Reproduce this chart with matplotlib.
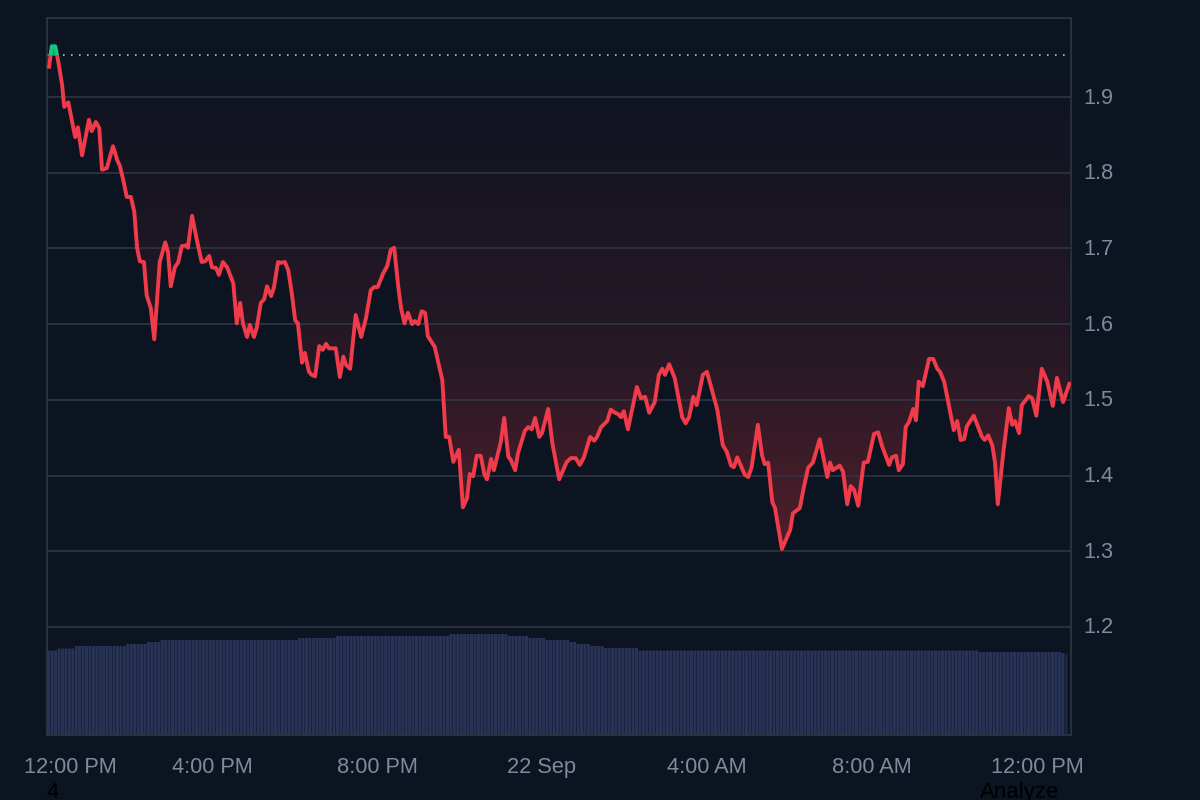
import numpy as np
import matplotlib
matplotlib.use("Agg")
import matplotlib.pyplot as plt
from matplotlib.patches import Rectangle
from matplotlib.path import Path
from matplotlib.transforms import ScaledTranslation

# --- data -------------------------------------------------------------
minutes = [3,7,12,16,22,25,31,41,45,51,61,65,71,76,80,87,96,102,106,111,116,122,127,131,135,141,145,151,156,
 164,172,176,180,186,191,196,202,205,211,218,225,230,236,240,246,250,256,262,271,276,281,285,291,295,301,305,
 311,316,320,326,330,336,340,346,351,356,361,365,371,375,381,385,390,396,401,406,410,420,426,431,435,441,449,
 457,464,471,476,481,489,495,500,505,511,515,520,525,531,535,540,545,550,554,564,575,580,585,591,599,605,611,
 615,620,625,631,636,640,646,650,660,665,671,675,681,685,695,700,705,710,716,720,729,735,745,756,762,769,775,
 781,790,796,800,806,815,820,826,831,835,839,845,858,864,870,876,884,890,895,899,905,913,924,929,934,940,945,
 954,960,975,983,989,995,999,1004,1015,1020,1025,1034,1040,1044,1049,1055,1059,1069,1081,1085,1095,1101,1107,
 1114,1124,1135,1139,1143,1153,1158,1164,1169,1174,1180,1188,1194,1203,1209,1215,1225,1229,1235,1239,1245,1249,
 1254,1260,1264,1268,1274,1283,1289,1295,1299,1305,1319,1324,1329,1334,1338,1348,1360,1364,1369,1375,1379,1383,
 1391,1399,1404,1408,1414,1418,1428,1433,1439,1447,1455,1463,1469,1478,1487]
prices = [1.940,1.967,1.967,1.949,1.916,1.887,1.893,1.847,1.860,1.823,1.870,1.855,1.867,1.859,1.804,1.806,1.835,
 1.817,1.809,1.790,1.768,1.768,1.748,1.701,1.683,1.682,1.638,1.621,1.580,1.682,1.708,1.695,1.650,1.675,1.682,
 1.703,1.704,1.701,1.743,1.711,1.682,1.683,1.690,1.675,1.674,1.665,1.682,1.675,1.654,1.601,1.628,1.601,1.583,
 1.599,1.583,1.595,1.628,1.633,1.650,1.637,1.648,1.682,1.681,1.682,1.671,1.641,1.605,1.601,1.549,1.562,1.537,
 1.533,1.531,1.571,1.566,1.574,1.568,1.568,1.530,1.557,1.546,1.541,1.612,1.583,1.608,1.645,1.649,1.649,1.667,
 1.677,1.698,1.701,1.649,1.621,1.601,1.615,1.600,1.604,1.600,1.617,1.615,1.584,1.570,1.526,1.451,1.451,1.418,
 1.434,1.358,1.370,1.402,1.399,1.426,1.426,1.402,1.395,1.422,1.407,1.444,1.476,1.425,1.420,1.407,1.429,1.459,
 1.464,1.461,1.476,1.451,1.456,1.488,1.443,1.395,1.418,1.423,1.423,1.414,1.424,1.451,1.446,1.451,1.464,1.472,
 1.487,1.483,1.481,1.477,1.485,1.461,1.517,1.502,1.504,1.483,1.497,1.533,1.541,1.533,1.547,1.529,1.477,1.469,
 1.477,1.504,1.493,1.533,1.537,1.487,1.440,1.431,1.413,1.411,1.424,1.401,1.398,1.411,1.467,1.427,1.415,1.417,
 1.365,1.357,1.303,1.328,1.350,1.357,1.385,1.410,1.417,1.448,1.398,1.417,1.407,1.413,1.405,1.362,1.386,1.381,
 1.360,1.417,1.418,1.455,1.457,1.438,1.414,1.424,1.426,1.407,1.415,1.464,1.471,1.488,1.473,1.524,1.518,1.554,
 1.554,1.541,1.537,1.524,1.460,1.472,1.447,1.448,1.465,1.479,1.451,1.447,1.453,1.440,1.417,1.362,1.430,1.489,
 1.467,1.472,1.456,1.493,1.505,1.502,1.479,1.541,1.524,1.492,1.529,1.497,1.521]
baseline_price = 1.955

# volume per 5-minute bar, as plateaus: (level, number of bars)
volume_levels = [84.5,86.5,89,91,93,95,97,99,101,99,97,95,93,91,89,87,84.5,83,82,81]
volume_counts = [3,5,15,6,4,40,11,33,17,6,5,7,2,4,4,10,99,24,1,1]

y_ticks = [1.2,1.3,1.4,1.5,1.6,1.7,1.8,1.9]
x_ticks = [0,240,480,720,960,1200,1440]
x_labels = ["12:00 PM","4:00 PM","8:00 PM","22 Sep","4:00 AM","8:00 AM","12:00 PM"]

# --- style ------------------------------------------------------------
BG = "#0d1421"; GRID = "#2f3644"; TXT = "#808a9d"
RED = "#f03b4a"; GREEN = "#16c784"; BAR = "#283356"
plt.rcParams['font.family'] = ['Liberation Sans', 'DejaVu Sans']
PX = 0.72  # points per pixel at dpi 100

fig = plt.figure(figsize=(12, 8), dpi=100, facecolor=BG)
rect = [47/1200, 1-735/800, (1071-47)/1200, (735-18)/800]
axv = fig.add_axes(rect, facecolor=BG)
ax = fig.add_axes(rect, facecolor="none")

xlim = (0, 1489.5); ylim = (1.0572, 2.0044)

# volume
vol = np.repeat(volume_levels, volume_counts)
vt = np.arange(len(vol))*5 + 2.5
bars = axv.bar(vt, vol, width=4.4, color=BAR, linewidth=0)
for b in bars:
    b.set_snap(False)
bars[-1].set_facecolor("#1c2644")
axv.set_xlim(*xlim); axv.set_ylim(0, 717)
axv.axis("off")

# gradient under baseline
t = np.array(minutes); p = np.array(prices)
gy = np.linspace(ylim[0], baseline_price, 400)
alpha = np.interp(gy, [1.30, 1.40, 1.56, 1.76, 1.955], [0.30, 0.235, 0.12, 0.06, 0.0])
img = np.zeros((400, 1, 4)); img[..., 0] = 234/255; img[..., 1] = 57/255; img[..., 2] = 67/255; img[..., 3] = alpha[:, None]
poly = ax.fill_between(t, p, baseline_price, where=p <= baseline_price, interpolate=True, color="none", linewidth=0)
im = ax.imshow(img, origin="lower", aspect="auto", extent=(xlim[0], xlim[1], ylim[0], baseline_price), zorder=1.2, interpolation="bilinear")
im.set_clip_path(Path.make_compound_path(*poly.get_paths()), transform=ax.transData)
ax.fill_between(t, p, baseline_price, where=p >= baseline_price, interpolate=True, color=GREEN, alpha=0.7, linewidth=0, zorder=1.3)

# grid and baseline
for yt in y_ticks:
    ax.axhline(yt, color=GRID, lw=1.6*PX, zorder=1.25)
ax.plot(xlim, [baseline_price]*2, color="#c3c9d4", lw=1.6*PX, ls=(0, (1, 4)), zorder=1.5)

# price line, split at the baseline
line_r, = ax.plot(t, p, color=RED, lw=3.9*PX, solid_joinstyle="round", zorder=3)
line_g, = ax.plot(t, p, color=GREEN, lw=3.9*PX, solid_joinstyle="round", zorder=3)
line_r.set_clip_path(Rectangle((xlim[0], ylim[0]), xlim[1]-xlim[0], baseline_price-ylim[0], transform=ax.transData))
line_g.set_clip_path(Rectangle((xlim[0], baseline_price), xlim[1]-xlim[0], ylim[1]-baseline_price, transform=ax.transData))

ax.set_xlim(*xlim); ax.set_ylim(*ylim)
for s in ax.spines.values():
    s.set_color(GRID); s.set_linewidth(1.6*PX)

ax.yaxis.tick_right()
ax.set_yticks(y_ticks, [f"{v:.1f}" for v in y_ticks])
ax.set_xticks(x_ticks, x_labels)
ax.tick_params(axis="y", length=0, pad=12*PX, labelsize=15.7, labelcolor=TXT)
ax.tick_params(axis="x", length=0, pad=22*PX, labelsize=15.7, labelcolor=TXT)
lab0 = ax.get_xticklabels()[0]
lab0.set_transform(lab0.get_transform() + ScaledTranslation(23/100, 0, fig.dpi_scale_trans))
for lab in ax.get_yticklabels():
    lab.set_transform(lab.get_transform() + ScaledTranslation(0, 1.5/100, fig.dpi_scale_trans))

# stray dark text at the bottom edge
fig.text(53/1200, 1-798/800, "4", color="#000000", fontsize=16, ha="center", va="baseline")
fig.text(1019.5/1200, 1-798/800, "Analyze", color="#000000", fontsize=16, ha="center", va="baseline")

fig.savefig("out.png", dpi=100, facecolor=BG)
